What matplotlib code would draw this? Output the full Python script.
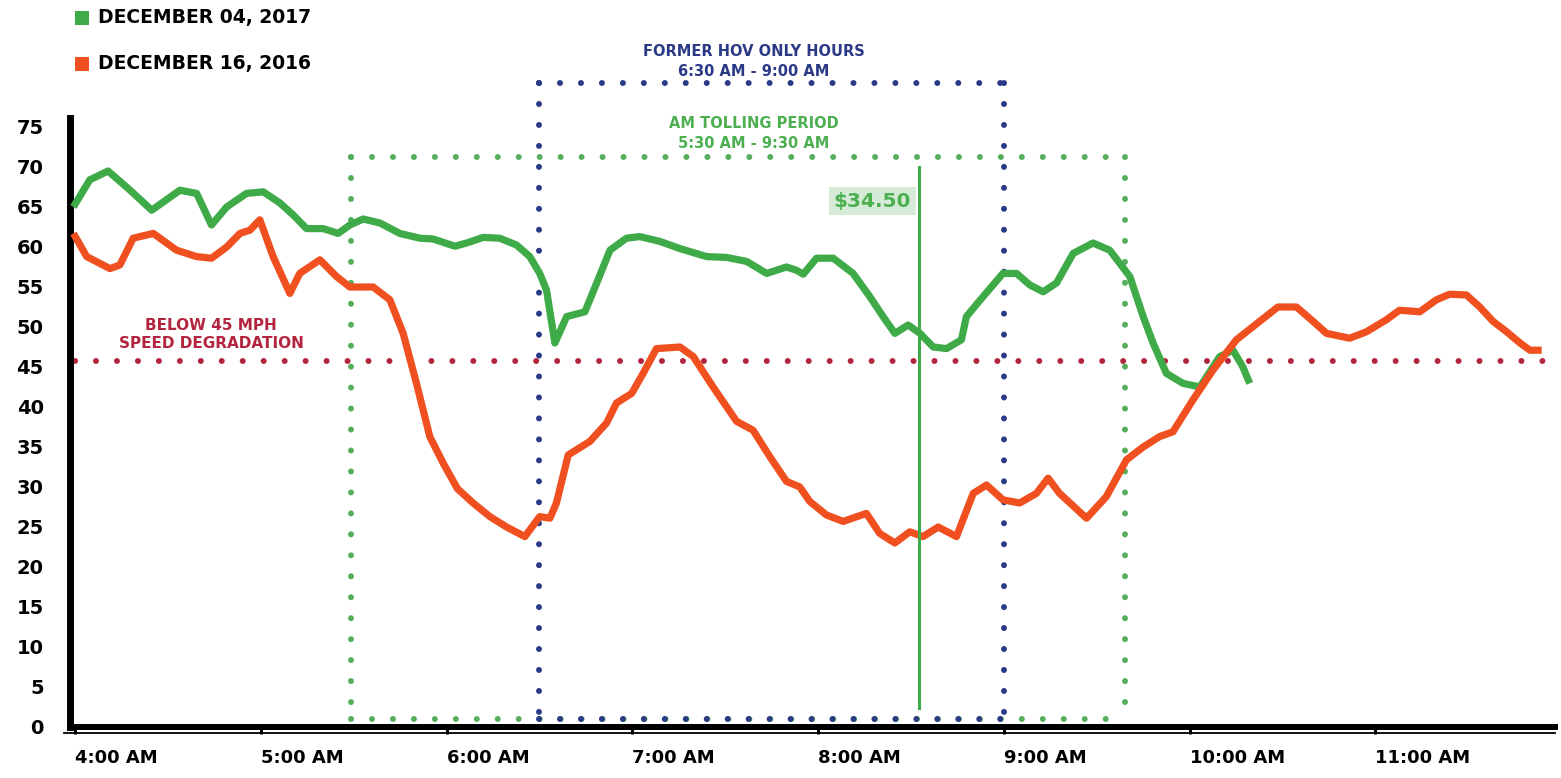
import matplotlib
matplotlib.use("Agg")
import matplotlib.pyplot as plt
from matplotlib.patches import Rectangle

# ---------------- data (x = minutes after 4:00 AM, y = mph) ----------------
green_min = [-0.5, 4.8, 10.7, 17.8, 24.8, 33.9, 39.3, 44.1, 49.0, 55.4, 60.8, 66.2,
             70.5, 74.8, 80.2, 85.0, 88.8, 93.1, 98.5, 104.9, 111.4, 115.7, 122.7,
             126.5, 131.8, 137.2, 142.6, 146.9, 150.1, 152.3, 155.0, 158.8, 164.7,
             168.5, 172.8, 178.1, 182.4, 188.9, 195.4, 204.0, 210.4, 216.9, 223.4,
             229.8, 233.0, 235.2, 239.5, 244.9, 251.3, 256.7, 261.0, 264.8, 269.1,
             272.9, 277.2, 281.5, 286.3, 287.9, 293.3, 299.7, 304.1, 308.4, 312.7,
             317.0, 322.4, 328.8, 334.2, 340.7, 345.0, 348.2, 352.5, 357.9, 363.3,
             369.7, 374.0, 377.2, 379.4]
green_mph = [65.0, 68.4, 69.5, 67.1, 64.6, 67.1, 66.7, 62.75, 65.0, 66.7, 66.9, 65.5,
             64.0, 62.3, 62.3, 61.7, 62.75, 63.5, 63.0, 61.7, 61.1, 61.0, 60.1,
             60.5, 61.2, 61.1, 60.25, 58.8, 56.7, 54.6, 48.0, 51.3, 51.9,
             55.5, 59.6, 61.1, 61.3, 60.7, 59.8, 58.8, 58.7, 58.2, 56.7,
             57.5, 57.1, 56.6, 58.6, 58.6, 56.7, 53.8, 51.3, 49.2, 50.25,
             49.2, 47.5, 47.3, 48.4, 51.3, 53.8, 56.7, 56.7, 55.25, 54.4,
             55.5, 59.2, 60.5, 59.6, 56.3, 51.3, 48.0, 44.2, 42.95, 42.5,
             46.3, 47.1, 45.0, 42.95]

orange_min = [-0.5, 3.8, 11.3, 14.5, 18.8, 25.3, 32.8, 39.3, 44.1, 49.0, 53.3, 56.5,
              59.7, 64.0, 69.4, 72.6, 79.1, 84.5, 88.8, 96.3, 101.7, 106.0, 110.3,
              114.6, 118.9, 123.5, 128.6, 134.0, 139.4, 145.3, 150.1, 153.4, 155.5,
              159.3, 166.3, 171.7, 174.9, 179.8, 183.5, 187.8, 195.4, 199.7, 206.1,
              213.7, 219.0, 224.4, 229.8, 234.1, 237.3, 242.7, 248.1, 255.6, 259.9,
              264.8, 269.6, 273.9, 278.8, 284.7, 290.1, 294.4, 299.7, 305.1, 310.5,
              314.3, 318.0, 326.7, 333.1, 339.6, 345.0, 350.3, 354.6, 361.1, 367.5,
              375.1, 382.6, 388.5, 394.5, 399.9, 404.2, 411.7, 417.1, 423.5, 427.8,
              434.3, 439.7, 444.0, 449.4, 453.7, 458.0, 462.4, 466.7, 469.9, 473.7]
orange_mph = [61.7, 58.8, 57.3, 57.75, 61.1, 61.7, 59.6, 58.8, 58.6, 60.0, 61.7, 62.1,
              63.4, 58.8, 54.2, 56.7, 58.4, 56.3, 55.0, 55.0, 53.4, 49.2, 42.95,
              36.3, 33.0, 29.8, 28.0, 26.3, 25.0, 23.8, 26.3, 26.1, 28.0,
              34.0, 35.7, 38.0, 40.5, 41.7, 44.2, 47.3, 47.5, 46.3, 42.5,
              38.2, 37.1, 33.8, 30.7, 30.0, 28.2, 26.5, 25.7, 26.7, 24.2,
              23.0, 24.4, 23.8, 25.0, 23.8, 29.2, 30.25, 28.4, 28.0, 29.2,
              31.1, 29.2, 26.1, 28.8, 33.4, 35.0, 36.3, 36.9, 40.9, 44.6,
              48.4, 50.7, 52.5, 52.5, 50.7, 49.2, 48.6, 49.4, 50.9, 52.1,
              51.9, 53.4, 54.1, 54.0, 52.5, 50.7, 49.4, 48.0, 47.1, 47.1]

hour_ticks = [0, 60, 120, 180, 240, 300, 360, 420]
hour_labels = ["4:00 AM", "5:00 AM", "6:00 AM", "7:00 AM", "8:00 AM",
               "9:00 AM", "10:00 AM", "11:00 AM"]
y_ticks = [0, 5, 10, 15, 20, 25, 30, 35, 40, 45, 50, 55, 60, 65, 70, 75]

series_labels = ["DECEMBER 04, 2017", "DECEMBER 16, 2016"]
threshold_mph = 45.75
hov_window = (150, 300)      # 6:30 - 9:00
toll_window = (89, 339)      # 5:30 - 9:30 (as drawn)
price_time = 272.5
price_label = "$34.50"

# ---------------- styling ----------------
GREEN = "#3FAA48"
ORANGE = "#F0501F"
NAVY = "#2B3A86"
DOTGREEN = "#55AE5C"
CRIMSON = "#B3253F"
TXTGREEN = "#4CAF50"
FONT = "DejaVu Sans"

W, H = 1561, 778
fig = plt.figure(figsize=(W / 100, H / 100), dpi=100)
ax = fig.add_axes([70 / W, 51 / H, 1485 / W, 688 / H])
ax.set_xlim(-1.6, 478)
ax.set_ylim(0, 86)


def dotted(xs, ys, color, z=2):
    ax.plot(xs, ys, color=color, lw=4.3, linestyle=(0, (0.01, 3.5)),
            dash_capstyle="round", clip_on=False, zorder=z)


# speed degradation threshold
dotted([0, 478], [threshold_mph, threshold_mph], CRIMSON)

# tolling period box (green)
tb, tt = 1.0, 71.25
t0, t1 = toll_window
dotted([t0, t1], [tt, tt], DOTGREEN)
dotted([t0, t0], [tt, tb], DOTGREEN)
dotted([t1, t1], [tt, tb], DOTGREEN)
dotted([t0, t1], [tb, tb], DOTGREEN)

# HOV box (navy)
hb, ht = 1.0, 80.5
h0, h1 = hov_window
dotted([h0, h1], [ht, ht], NAVY, 2.1)
dotted([h0, h0], [ht, hb], NAVY, 2.1)
dotted([h1, h1], [ht, hb], NAVY, 2.1)
dotted([h0, h1], [hb, hb], NAVY, 2.1)

# series
ax.plot(green_min, green_mph, color=GREEN, lw=5.2, solid_joinstyle="round",
        solid_capstyle="butt", zorder=4)
ax.plot(orange_min, orange_mph, color=ORANGE, lw=5.2, solid_joinstyle="round",
        solid_capstyle="butt", zorder=5)

# price marker
ax.plot([price_time, price_time], [2.4, 70.0], color=GREEN, lw=2.2, zorder=6)
ax.text(price_time - 2.4, 65.75, price_label, ha="right", va="center",
        color=TXTGREEN, fontsize=14.5, fontweight="bold", family=FONT,
        bbox=dict(boxstyle="square,pad=0.22", fc="#D6EBD7", ec="none"), zorder=6)

# annotations
ax.text(219.3, 84.4, "FORMER HOV ONLY HOURS", ha="center", va="center",
        color=NAVY, fontsize=10.5, fontweight="bold", family=FONT, clip_on=False)
ax.text(219.3, 81.9, "6:30 AM - 9:00 AM", ha="center", va="center",
        color=NAVY, fontsize=10.5, fontweight="bold", family=FONT, clip_on=False)
ax.text(219.3, 75.4, "AM TOLLING PERIOD", ha="center", va="center",
        color=TXTGREEN, fontsize=10.5, fontweight="bold", family=FONT)
ax.text(219.3, 73.0, "5:30 AM - 9:30 AM", ha="center", va="center",
        color=TXTGREEN, fontsize=10.5, fontweight="bold", family=FONT)
ax.text(44, 50.25, "BELOW 45 MPH", ha="center", va="center",
        color=CRIMSON, fontsize=11, fontweight="bold", family=FONT)
ax.text(44, 47.9, "SPEED DEGRADATION", ha="center", va="center",
        color=CRIMSON, fontsize=11, fontweight="bold", family=FONT)

# axes styling
for s in ["top", "right"]:
    ax.spines[s].set_visible(False)
ax.spines["left"].set_linewidth(5)
ax.spines["left"].set_bounds(0, 76.1)
ax.spines["bottom"].set_linewidth(4.3)
ax.axhline(-0.75, color="black", lw=1.3, clip_on=False, xmin=-0.004)

ax.set_yticks(y_ticks)
ax.set_yticklabels([str(v) for v in y_ticks], fontsize=14, fontweight="bold",
                   family=FONT)
ax.tick_params(axis="y", length=0, pad=19)

ax.set_xticks(hour_ticks)
ax.set_xticklabels(hour_labels, fontsize=13, fontweight="bold", family=FONT,
                   ha="left")
ax.tick_params(axis="x", length=5, width=2.2, pad=11, direction="out")

# legend
for i, (lab, col) in enumerate(zip(series_labels, [GREEN, ORANGE])):
    yc = [18, 64][i]
    fig.add_artist(Rectangle((75 / W, 1 - (yc + 7) / H), 14 / W, 14 / H,
                             transform=fig.transFigure, color=col, lw=0))
    fig.text(98 / W, 1 - yc / H, lab, ha="left", va="center", fontsize=13.5,
             fontweight="bold", family=FONT)

fig.savefig("out.png", dpi=100, facecolor="white")
